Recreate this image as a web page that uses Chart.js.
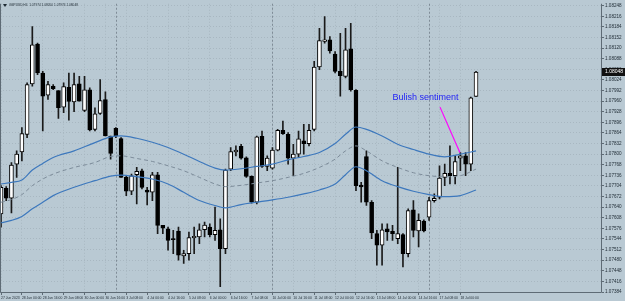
<!DOCTYPE html>
<html>
<head>
<meta charset="utf-8">
<script src="https://cdn.jsdelivr.net/npm/chart.js@4.4.0/dist/chart.umd.min.js"></script>
<style>
  html, body { margin: 0; padding: 0; background: #b9c9d3; }
  canvas { display: block; }
</style>
</head>
<body>
<canvas id="mtChart" width="625" height="301"></canvas>
<script>
/* GBPUSD H4 candles */

const symbol = "GBPUSD,H4";

const opens = [1.07620,1.07697,1.07667,1.07770,1.07807,1.07860,1.08012,1.08132,1.08045,1.07978,
  1.08005,1.07992,1.07942,1.08002,1.07958,1.08012,1.07932,1.07994,1.07875,1.07923,
  1.07965,1.07855,1.07878,1.07847,1.07730,1.07688,1.07738,1.07750,1.07692,1.07685,
  1.07738,1.07585,1.07575,1.07545,1.07568,1.07493,1.07500,1.07548,1.07550,1.07572,
  1.07580,1.07557,1.07572,1.07515,1.07755,1.07807,1.07824,1.07789,1.07733,1.07655,
  1.07854,1.07763,1.07758,1.07812,1.07872,1.07860,1.07788,1.07800,1.07840,1.07832,
  1.07875,1.08063,1.08140,1.08145,1.08102,1.08050,1.08035,1.08118,1.07993,1.07707,
  1.07793,1.07655,1.07560,1.07525,1.07575,1.07567,1.07545,1.07557,1.07500,1.07632,
  1.07568,1.07598,1.07610,1.07660,1.07670,1.07730,1.07742,1.07735,1.07788,1.07795,
  1.07770,1.07974];

const highs = [1.07705,1.07702,1.07775,1.07810,1.07880,1.08015,1.08185,1.08135,1.08050,1.08020,
  1.08010,1.07992,1.08015,1.08045,1.08045,1.08035,1.08035,1.08000,1.07940,1.08025,
  1.07988,1.07855,1.07880,1.07850,1.07735,1.07740,1.07760,1.07755,1.07700,1.07745,
  1.07745,1.07585,1.07580,1.07570,1.07580,1.07510,1.07565,1.07580,1.07590,1.07595,
  1.07590,1.07640,1.07605,1.07755,1.07820,1.07825,1.07830,1.07792,1.07735,1.07855,
  1.07870,1.07795,1.07820,1.07875,1.07900,1.07865,1.07830,1.07870,1.07890,1.07890,
  1.08080,1.08180,1.08215,1.08155,1.08110,1.08165,1.08180,1.08195,1.07995,1.07715,
  1.07810,1.07660,1.07570,1.07590,1.07590,1.07585,1.07760,1.07560,1.07635,1.07660,
  1.07620,1.07602,1.07670,1.07680,1.07765,1.07770,1.07825,1.07795,1.07805,1.07805,
  1.07972,1.08050];

const lows = [1.07580,1.07660,1.07623,1.07730,1.07780,1.07850,1.08005,1.08040,1.07870,1.07965,
  1.07995,1.07908,1.07925,1.07903,1.07928,1.07960,1.07928,1.07870,1.07870,1.07920,
  1.07855,1.07785,1.07850,1.07730,1.07675,1.07678,1.07650,1.07695,1.07647,1.07660,
  1.07560,1.07560,1.07510,1.07500,1.07480,1.07470,1.07480,1.07500,1.07530,1.07550,
  1.07550,1.07540,1.07400,1.07500,1.07750,1.07795,1.07785,1.07730,1.07652,1.07650,
  1.07760,1.07750,1.07755,1.07810,1.07860,1.07770,1.07735,1.07790,1.07800,1.07825,
  1.07870,1.08055,1.08135,1.08105,1.08045,1.07975,1.08030,1.07990,1.07690,1.07655,
  1.07645,1.07545,1.07465,1.07465,1.07540,1.07540,1.07530,1.07460,1.07490,1.07550,
  1.07520,1.07565,1.07600,1.07655,1.07665,1.07705,1.07710,1.07710,1.07750,1.07735,
  1.07750,1.07974];

const closes = [1.07700,1.07667,1.07767,1.07800,1.07862,1.08010,1.08130,1.08045,1.07975,1.08010,
  1.07998,1.07940,1.08004,1.07959,1.08010,1.07960,1.07994,1.07873,1.07922,1.07962,
  1.07855,1.07802,1.07855,1.07730,1.07688,1.07735,1.07748,1.07700,1.07685,1.07738,
  1.07585,1.07577,1.07540,1.07542,1.07495,1.07500,1.07548,1.07552,1.07572,1.07586,
  1.07557,1.07570,1.07515,1.07752,1.07808,1.07812,1.07788,1.07733,1.07655,1.07852,
  1.07763,1.07788,1.07812,1.07872,1.07862,1.07788,1.07800,1.07846,1.07832,1.07872,
  1.08063,1.08143,1.08145,1.08112,1.08050,1.08037,1.08115,1.07995,1.07705,1.07701,
  1.07655,1.07562,1.07525,1.07572,1.07565,1.07560,1.07560,1.07500,1.07630,1.07570,
  1.07600,1.07568,1.07660,1.07667,1.07728,1.07742,1.07735,1.07778,1.07795,1.07770,
  1.07970,1.08048];

// bollinger bands, sampled at these bars
const bandBars = [0,2,4,6,8,10,14,18,21,23,26,29,32,35,38,41,43,46,49,52,55,58,61,64,66,68,70,73,76,79,82,85,88,91];
const bandUpper = [1.07710,1.07715,1.07722,1.07752,1.07772,1.07790,1.07810,1.07835,1.07852,1.07855,1.07848,1.07836,
  1.07820,1.07800,1.07778,1.07758,1.07752,1.07756,1.07763,1.07770,1.07783,1.07793,1.07805,1.07832,
  1.07860,1.07882,1.07875,1.07855,1.07830,1.07814,1.07800,1.07792,1.07800,1.07810];
const bandMiddle = [1.07655,1.07663,1.07678,1.07705,1.07725,1.07740,1.07760,1.07775,1.07793,1.07795,1.07787,1.07778,
  1.07765,1.07750,1.07730,1.07710,1.07702,1.07706,1.07713,1.07720,1.07730,1.07742,1.07760,1.07785,
  1.07810,1.07825,1.07810,1.07780,1.07760,1.07744,1.07735,1.07732,1.07735,1.07755];
const bandLower = [1.07593,1.07600,1.07612,1.07635,1.07655,1.07675,1.07700,1.07720,1.07734,1.07737,1.07732,1.07725,
  1.07710,1.07685,1.07660,1.07645,1.07638,1.07648,1.07655,1.07662,1.07670,1.07680,1.07692,1.07710,
  1.07738,1.07762,1.07750,1.07720,1.07702,1.07688,1.07678,1.07672,1.07675,1.07692];

// axis labels
const timeTickBars = [0,4,8,12,16,20,24,28,32,36,40,44,48,52,56,60,64,68,72,76,80,84,88];
const timeTickLabels = ["27 Jun 2023","28 Jun 00:00","28 Jun 16:00","29 Jun 08:00","30 Jun 00:00","30 Jun 16:00",
  "3 Jul 08:00","4 Jul 00:00","4 Jul 16:00","5 Jul 08:00","6 Jul 00:00","6 Jul 16:00","7 Jul 08:00",
  "10 Jul 00:00","10 Jul 16:00","11 Jul 08:00","12 Jul 00:00","12 Jul 16:00","13 Jul 08:00",
  "14 Jul 00:00","14 Jul 16:00","17 Jul 08:00","18 Jul 00:00"];
const priceTicks = [1.08248,1.08216,1.08184,1.08152,1.08120,1.08088,1.08056,1.08024,1.07992,1.07960,
  1.07928,1.07896,1.07864,1.07832,1.07800,1.07768,1.07736,1.07704,1.07672,1.07640,
  1.07608,1.07576,1.07544,1.07512,1.07480,1.07448,1.07416,1.07384];
const weekSeparators = [22, 52, 82];

// annotation
const noteText = "Bulish sentiment";
const noteAt = [75.0, 1.07972];
const arrowFrom = [84.1, 1.07942];
const arrowTo = [87.9, 1.07805];

const bars = opens.map((o, i) => i);
const last = closes.length - 1;

const mtPlugin = {
  id: 'mt',
  beforeDatasetsDraw(chart) {
    const { ctx, chartArea: a, scales: { x } } = chart;
    ctx.save();
    ctx.strokeStyle = '#7f8c97';
    ctx.lineWidth = 1;
    ctx.setLineDash([2, 2]);
    weekSeparators.forEach(b => {
      const px = Math.round(x.getPixelForValue(b)) + 0.5;
      ctx.beginPath();
      ctx.moveTo(px, a.top);
      ctx.lineTo(px, a.bottom);
      ctx.stroke();
    });
    ctx.restore();
  },
  afterDraw(chart) {
    const { ctx, chartArea: a, scales: { x, y } } = chart;
    ctx.save();
    // frame
    ctx.strokeStyle = '#5e6b75';
    ctx.lineWidth = 1;
    ctx.beginPath();
    ctx.moveTo(a.left + 0.5, a.top);
    ctx.lineTo(a.left + 0.5, a.bottom - 0.5);
    ctx.lineTo(a.right - 0.5, a.bottom - 0.5);
    ctx.lineTo(a.right - 0.5, a.top);
    ctx.stroke();

    // title
    ctx.fillStyle = '#1e2a33';
    ctx.beginPath();
    ctx.moveTo(3, 4); ctx.lineTo(7, 4); ctx.lineTo(5, 7); ctx.closePath(); ctx.fill();
    ctx.font = '3.2px "Liberation Sans", Arial, sans-serif';
    ctx.textBaseline = 'middle';
    ctx.textAlign = 'left';
    ctx.fillText(symbol + '  ' + opens[last].toFixed(5) + ' ' + highs[last].toFixed(5) + ' ' +
      lows[last].toFixed(5) + ' ' + closes[last].toFixed(5), 9, 5.5);

    // note
    ctx.fillStyle = '#2323f5';
    ctx.font = '9px "Liberation Sans", Arial, sans-serif';
    ctx.fillText(noteText, x.getPixelForValue(noteAt[0]), y.getPixelForValue(noteAt[1]));

    // current price label
    const py = Math.round(y.getPixelForValue(closes[last]));
    ctx.fillStyle = '#111';
    ctx.fillRect(a.right, py - 4, chart.width - a.right, 8);
    ctx.fillStyle = '#fff';
    ctx.font = '5px "Liberation Sans", Arial, sans-serif';
    ctx.fillText(closes[last].toFixed(5), a.right + 3, py);
    ctx.restore();
  }
};

const ctx = document.getElementById('mtChart');
new Chart(ctx, {
  data: {
    datasets: [
      {
        type: 'bar',
        label: 'wick',
        data: bars.map(i => ({ x: i, y: [lows[i], highs[i]] })),
        backgroundColor: '#1a1a1a',
        barThickness: 1,
        grouped: false,
        order: 3
      },
      {
        type: 'bar',
        label: 'body',
        data: bars.map(i => ({ x: i, y: [opens[i], closes[i]] })),
        backgroundColor: bars.map(i => closes[i] >= opens[i] ? '#ffffff' : '#000000'),
        borderColor: '#000000',
        borderWidth: 1,
        borderSkipped: false,
        barThickness: 4,
        grouped: false,
        order: 2
      },
      {
        type: 'line',
        label: 'upper',
        data: bandBars.map((b, k) => ({ x: b, y: bandUpper[k] })),
        borderColor: '#3d78bd',
        borderWidth: 1.2,
        pointRadius: 0,
        cubicInterpolationMode: 'monotone',
        order: 1
      },
      {
        type: 'line',
        label: 'middle',
        data: bandBars.map((b, k) => ({ x: b, y: bandMiddle[k] })),
        borderColor: '#7d8c9a',
        borderWidth: 1,
        borderDash: [4, 3],
        pointRadius: 0,
        cubicInterpolationMode: 'monotone',
        order: 1
      },
      {
        type: 'line',
        label: 'lower',
        data: bandBars.map((b, k) => ({ x: b, y: bandLower[k] })),
        borderColor: '#3d78bd',
        borderWidth: 1.2,
        pointRadius: 0,
        cubicInterpolationMode: 'monotone',
        order: 1
      },
      {
        type: 'line',
        label: 'arrow',
        data: [{ x: arrowFrom[0], y: arrowFrom[1] }, { x: arrowTo[0], y: arrowTo[1] }],
        borderColor: '#ff00ff',
        borderWidth: 1.2,
        pointRadius: 0,
        order: 0
      }
    ]
  },
  options: {
    responsive: false,
    animation: false,
    devicePixelRatio: 1,
    layout: { padding: { top: 2, left: 0, right: 0, bottom: 0 } },
    plugins: { legend: { display: false }, tooltip: { enabled: false } },
    scales: {
      x: {
        type: 'linear',
        offset: false,
        min: -0.19,
        max: 115.13,
        afterBuildTicks: s => { s.ticks = timeTickBars.map(v => ({ value: v })); },
        afterFit: s => { s.height = 8; },
        ticks: {
          autoSkip: false,
          maxRotation: 0,
          align: 'start',
          padding: 1,
          color: '#1e2a33',
          font: { size: 3.4, family: '"Liberation Sans", Arial, sans-serif' },
          callback: v => timeTickLabels[timeTickBars.indexOf(v)]
        },
        grid: { offset: false, color: '#a8b7c1', tickLength: 2, tickColor: '#5e6b75' },
        border: { display: false, dash: [1, 2] }
      },
      y: {
        position: 'right',
        min: 1.07381,
        max: 1.08254,
        afterBuildTicks: s => { s.ticks = priceTicks.map(v => ({ value: v })); },
        afterFit: s => { s.width = 23; },
        ticks: {
          padding: 1,
          color: '#1e2a33',
          font: { size: 4.6, family: '"Liberation Sans", Arial, sans-serif' },
          callback: v => v.toFixed(5)
        },
        grid: { color: '#a8b7c1', tickLength: 2, tickColor: '#5e6b75' },
        border: { display: false, dash: [1, 2] }
      }
    }
  },
  plugins: [mtPlugin]
});
</script>
</body>
</html>
